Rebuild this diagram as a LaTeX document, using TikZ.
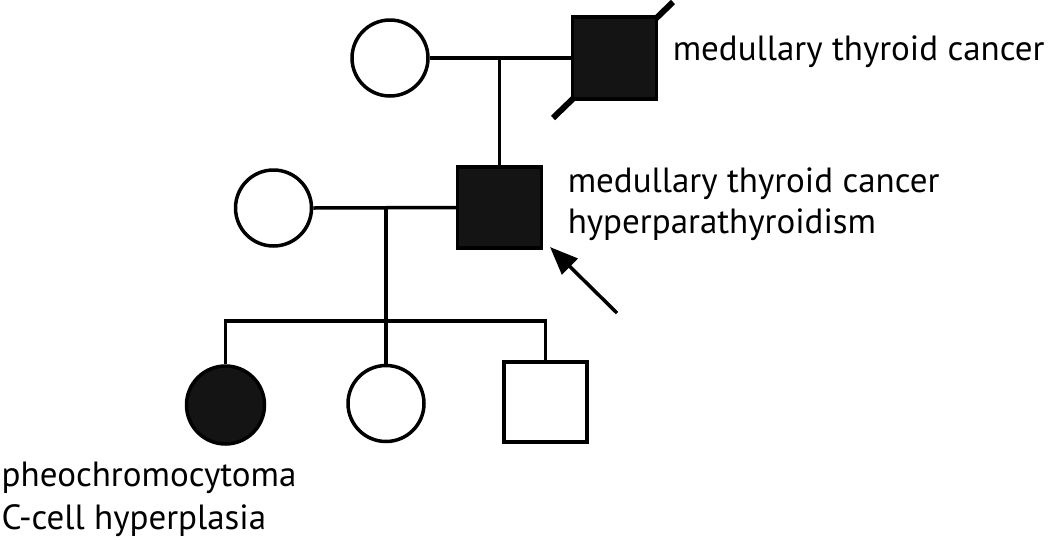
\documentclass[tikz,border=0pt]{standalone}
\usepackage{fontspec}
\setmainfont{PT Sans}
\usetikzlibrary{arrows.meta}
\begin{document}
\begin{tikzpicture}[x=1pt,y=-1pt,
  line width=3.5pt,
  female/.style={draw,circle,minimum size=76pt,inner sep=0pt},
  male/.style={draw,rectangle,minimum width=84pt,minimum height=81pt,inner sep=0pt},
  affected/.style={fill=black!92},
  lbl/.style={anchor=base west,inner sep=0pt,font=\fontsize{35}{40}\selectfont}]
\useasboundingbox (0,0) rectangle (1050,539);
% generation I
\coordinate (d1) at (553,118);
\coordinate (d2) at (673,2);
\draw[line width=6pt] (d1) -- (d2);
\node[female] (f1) at (390,58) {};
\node[male,affected,minimum height=82pt] (m1) at (614.5,58) {};
\draw (f1.east) -- (m1.west);
% generation II
\node[female] (f2) at (273.5,208) {};
\node[male,affected] (m2) at (499.5,207.5) {};
\draw (m2.north |- f1.east) -- (m2.north);
\draw (f2.east) -- (m2.west);
% generation III
\node[female,affected,minimum size=78pt] (c1) at (225.5,405) {};
\node[female] (c2) at (386,403.5) {};
\node[male,minimum width=83pt,minimum height=80pt] (c3) at (545.5,402) {};
\coordinate (p2) at (386,208);
\coordinate (s) at (386,321);
\draw (p2) -- (c2.north);
\draw (c1.north) -- (c1.north |- s) -- (c3.north |- s) -- (c3.north);
% proband arrow
\coordinate (atail) at (617,313);
\coordinate (atip) at (550,247);
\draw[-{Triangle[length=28pt,width=22pt]}] (atail) -- (atip);
% labels
\node[lbl] (t1) at (671,60) {medullary thyroid cancer};
\node[lbl] (t2) at (566,192) {medullary thyroid cancer};
\node[lbl] (t3) at (566,233) {hyperparathyroidism};
\node[lbl] (t4) at (0,486) {pheochromocytoma};
\node[lbl] (t5) at (0,529) {C-cell hyperplasia};
\end{tikzpicture}
\end{document}
